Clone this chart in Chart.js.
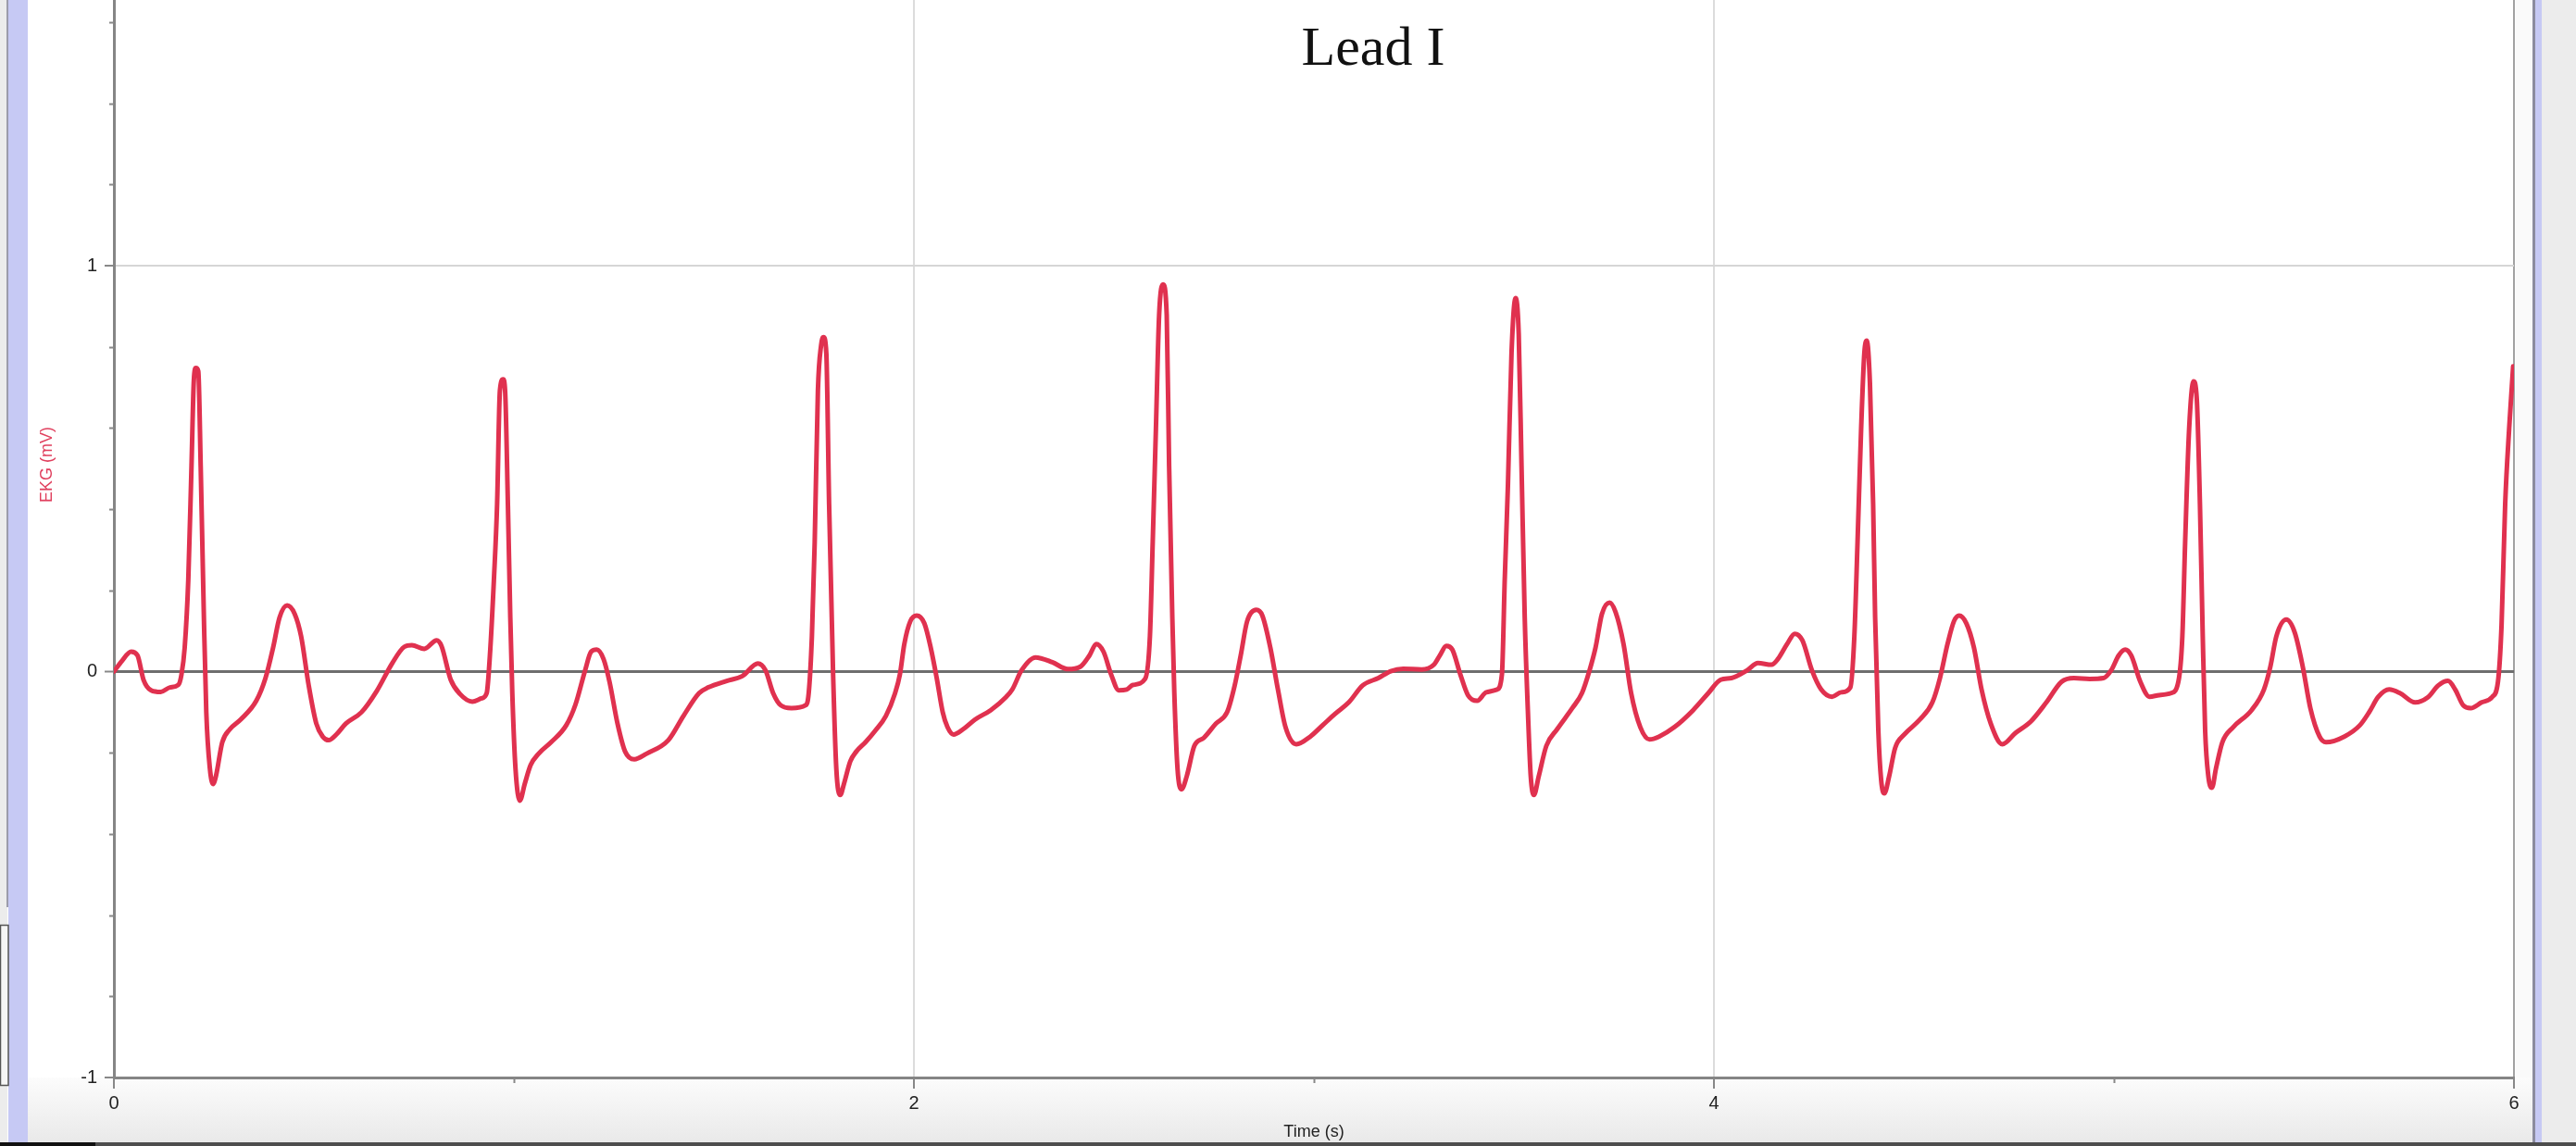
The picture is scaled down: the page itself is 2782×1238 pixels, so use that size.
<!DOCTYPE html>
<html>
<head>
<meta charset="utf-8">
<title>Lead I</title>
<script src="https://cdn.jsdelivr.net/npm/chart.js@4.4.1/dist/chart.umd.min.js"></script>
<style>
  html, body { margin: 0; padding: 0; background: #ffffff; overflow: hidden; }
  canvas { display: block; }
</style>
</head>
<body>
<canvas id="c" width="2782" height="1238"></canvas>
<script>
// ---- Data ----
const chartTitle = 'Lead I';
const xAxisLabel = 'Time (s)';
const yAxisLabel = 'EKG (mV)';

const xMajorTicks = [0, 2, 4, 6];
const xMinorTicks = [1, 3, 5];
const yMajorTicks = [-1, 0, 1];
const yMinorTicks = [-0.8, -0.6, -0.4, -0.2, 0.2, 0.4, 0.6, 0.8, 1.2, 1.4, 1.6];

const xMin = 0, xMax = 6;
const yMin = -1, yMax = 1.6545;

const timeS = [
  0.000, 0.020, 0.043, 0.059, 0.074, 0.093, 0.117, 0.140, 0.161, 0.169,
  0.177, 0.186, 0.194, 0.200, 0.205, 0.211, 0.217, 0.225, 0.231, 0.240,
  0.248, 0.255, 0.271, 0.290, 0.317, 0.356, 0.379, 0.398, 0.414, 0.433,
  0.452, 0.468, 0.487, 0.506, 0.522, 0.537, 0.556, 0.580, 0.619, 0.657,
  0.696, 0.726, 0.745, 0.776, 0.807, 0.819, 0.842, 0.865, 0.896, 0.919,
  0.932, 0.940, 0.950, 0.958, 0.965, 0.973, 0.978, 0.985, 0.991, 0.996,
  1.004, 1.015, 1.027, 1.042, 1.062, 1.093, 1.131, 1.154, 1.178, 1.193,
  1.207, 1.224, 1.239, 1.259, 1.278, 1.301, 1.332, 1.386, 1.424, 1.463,
  1.486, 1.532, 1.571, 1.610, 1.629, 1.648, 1.667, 1.694, 1.729, 1.737,
  1.745, 1.752, 1.760, 1.768, 1.774, 1.781, 1.788, 1.798, 1.806, 1.816,
  1.825, 1.841, 1.856, 1.879, 1.903, 1.930, 1.953, 1.965, 1.976, 1.991,
  2.007, 2.026, 2.042, 2.057, 2.072, 2.084, 2.099, 2.123, 2.153, 2.192,
  2.231, 2.246, 2.269, 2.304, 2.346, 2.385, 2.416, 2.439, 2.456, 2.474,
  2.493, 2.512, 2.532, 2.547, 2.578, 2.590, 2.597, 2.605, 2.613, 2.623,
  2.632, 2.638, 2.646, 2.651, 2.659, 2.669, 2.682, 2.701, 2.725, 2.755,
  2.783, 2.802, 2.817, 2.833, 2.856, 2.871, 2.891, 2.910, 2.929, 2.956,
  2.991, 3.022, 3.053, 3.087, 3.122, 3.161, 3.192, 3.223, 3.269, 3.300,
  3.315, 3.331, 3.346, 3.366, 3.385, 3.408, 3.431, 3.458, 3.470, 3.477,
  3.485, 3.494, 3.504, 3.512, 3.519, 3.527, 3.535, 3.542, 3.550, 3.562,
  3.581, 3.608, 3.646, 3.670, 3.689, 3.704, 3.720, 3.739, 3.754, 3.774,
  3.793, 3.816, 3.839, 3.863, 3.901, 3.948, 3.986, 4.017, 4.044, 4.083,
  4.110, 4.144, 4.160, 4.183, 4.202, 4.221, 4.245, 4.268, 4.295, 4.318,
  4.341, 4.351, 4.359, 4.368, 4.376, 4.382, 4.390, 4.398, 4.403, 4.411,
  4.418, 4.426, 4.438, 4.453, 4.476, 4.515, 4.546, 4.565, 4.584, 4.600,
  4.613, 4.631, 4.650, 4.669, 4.692, 4.721, 4.754, 4.792, 4.831, 4.869,
  4.900, 4.939, 4.974, 4.993, 5.012, 5.028, 5.043, 5.066, 5.089, 5.113,
  5.143, 5.161, 5.171, 5.178, 5.188, 5.199, 5.207, 5.215, 5.222, 5.228,
  5.236, 5.245, 5.255, 5.271, 5.298, 5.344, 5.375, 5.391, 5.406, 5.431,
  5.452, 5.472, 5.491, 5.514, 5.530, 5.576, 5.615, 5.638, 5.661, 5.688,
  5.715, 5.753, 5.784, 5.811, 5.835, 5.853, 5.873, 5.892, 5.919, 5.946,
  5.960, 5.969, 5.978, 5.988, 5.998
];

const ekgMV = [
  0.000, 0.026, 0.049, 0.040, -0.020, -0.046, -0.050, -0.039, -0.033, -0.007,
  0.059, 0.226, 0.506, 0.720, 0.748, 0.740, 0.506, 0.133, -0.100, -0.239,
  -0.277, -0.258, -0.174, -0.142, -0.118, -0.072, -0.016, 0.059, 0.133, 0.163,
  0.142, 0.087, -0.034, -0.128, -0.160, -0.169, -0.155, -0.128, -0.100, -0.048,
  0.021, 0.061, 0.065, 0.056, 0.077, 0.063, -0.020, -0.055, -0.074, -0.066,
  -0.053, 0.040, 0.226, 0.412, 0.692, 0.720, 0.692, 0.412, 0.133, -0.053,
  -0.239, -0.318, -0.277, -0.230, -0.202, -0.174, -0.132, -0.081, 0.003, 0.049,
  0.054, 0.031, -0.025, -0.128, -0.197, -0.216, -0.202, -0.169, -0.109, -0.053,
  -0.039, -0.023, -0.011, 0.020, 0.003, -0.053, -0.083, -0.090, -0.083, -0.053,
  0.087, 0.319, 0.692, 0.804, 0.824, 0.785, 0.412, -0.007, -0.239, -0.304,
  -0.277, -0.221, -0.197, -0.174, -0.146, -0.109, -0.053, -0.007, 0.068, 0.124,
  0.138, 0.119, 0.059, -0.016, -0.100, -0.137, -0.155, -0.142, -0.118, -0.095,
  -0.062, -0.044, 0.003, 0.035, 0.023, 0.006, 0.012, 0.040, 0.068, 0.049,
  -0.007, -0.046, -0.044, -0.033, -0.018, 0.087, 0.319, 0.599, 0.878, 0.954,
  0.878, 0.506, 0.133, -0.053, -0.239, -0.290, -0.258, -0.183, -0.163, -0.128,
  -0.100, -0.034, 0.040, 0.124, 0.152, 0.138, 0.059, -0.044, -0.137, -0.179,
  -0.160, -0.132, -0.104, -0.076, -0.034, -0.016, 0.001, 0.007, 0.005, 0.017,
  0.040, 0.063, 0.054, -0.007, -0.058, -0.072, -0.051, -0.044, -0.007, 0.226,
  0.459, 0.785, 0.920, 0.831, 0.506, 0.133, -0.100, -0.258, -0.304, -0.258,
  -0.183, -0.142, -0.090, -0.053, 0.003, 0.059, 0.142, 0.170, 0.147, 0.068,
  -0.053, -0.137, -0.167, -0.160, -0.137, -0.095, -0.053, -0.020, -0.016, 0.003,
  0.021, 0.017, 0.031, 0.068, 0.093, 0.077, 0.003, -0.044, -0.062, -0.051,
  -0.039, 0.087, 0.319, 0.599, 0.785, 0.815, 0.710, 0.412, 0.133, -0.146,
  -0.267, -0.300, -0.258, -0.188, -0.155, -0.118, -0.076, -0.016, 0.068, 0.124,
  0.138, 0.119, 0.059, -0.044, -0.128, -0.179, -0.151, -0.123, -0.076, -0.025,
  -0.016, -0.018, -0.016, 0.003, 0.040, 0.054, 0.040, -0.025, -0.062, -0.058,
  -0.053, -0.025, 0.087, 0.319, 0.599, 0.715, 0.673, 0.412, 0.087, -0.146,
  -0.258, -0.286, -0.239, -0.174, -0.137, -0.095, -0.044, 0.012, 0.087, 0.128,
  0.096, 0.012, -0.090, -0.160, -0.174, -0.160, -0.132, -0.100, -0.062, -0.044,
  -0.053, -0.076, -0.064, -0.034, -0.023, -0.044, -0.083, -0.090, -0.076, -0.062,
  -0.025, 0.115, 0.412, 0.599, 0.752
];

// ---- Styles ----
const traceColor = '#e0314f';
const labelPink = '#e0405e';
const tickFont = { family: '"Liberation Sans", Arial, sans-serif', size: 20 };

const points = timeS.map((t, i) => ({ x: t, y: ekgMV[i] }));

const chromePlugin = {
  id: 'chrome',
  beforeDraw(chart) {
    const ctx = chart.ctx;
    const W = chart.width, H = chart.height;
    const ca = chart.chartArea;
    ctx.save();
    ctx.fillStyle = '#ffffff';
    ctx.fillRect(0, 0, W, H);
    // band under the time axis
    const g = ctx.createLinearGradient(0, ca.bottom, 0, H);
    g.addColorStop(0, '#fcfcfc');
    g.addColorStop(1, '#e8e8e8');
    ctx.fillStyle = g;
    ctx.fillRect(30, ca.bottom, 2735 - 30, H - ca.bottom);
    // right margin
    ctx.fillStyle = '#fafafa';
    ctx.fillRect(ca.right + 2, 0, 2735 - ca.right - 2, ca.bottom);
    // left window chrome
    ctx.fillStyle = '#ececec';
    ctx.fillRect(0, 0, 8, H);
    ctx.fillStyle = '#9c9cab';
    ctx.fillRect(7, 0, 2, 980);
    ctx.fillStyle = '#c6c9f4';
    ctx.fillRect(9, 0, 21, H);
    ctx.fillStyle = '#f6f6f6';
    ctx.fillRect(0, 999, 9, 174);
    ctx.strokeStyle = '#555';
    ctx.lineWidth = 1.5;
    ctx.strokeRect(0.5, 999.5, 8.5, 173);
    // right window chrome
    ctx.fillStyle = '#8c8c9e';
    ctx.fillRect(2735, 0, 3, H);
    ctx.fillStyle = '#c6c9f4';
    ctx.fillRect(2738, 0, 7, H);
    ctx.fillStyle = '#ececec';
    ctx.fillRect(2745, 0, W - 2745, H);
    // bottom edge
    ctx.fillStyle = '#4d4d4d';
    ctx.fillRect(0, H - 4, W, 4);
    ctx.fillStyle = '#111';
    ctx.fillRect(0, H - 4, 103, 4);
    ctx.restore();
  },
  afterDraw(chart) {
    const ctx = chart.ctx;
    const xs = chart.scales.x, ys = chart.scales.y;
    ctx.save();
    // minor tick marks
    ctx.strokeStyle = '#888';
    ctx.lineWidth = 2;
    ctx.beginPath();
    yMinorTicks.forEach(v => {
      const py = Math.round(ys.getPixelForValue(v)) + 0.5;
      ctx.moveTo(ys.right - 5, py);
      ctx.lineTo(ys.right, py);
    });
    xMinorTicks.forEach(v => {
      const px = Math.round(xs.getPixelForValue(v)) + 0.5;
      ctx.moveTo(px, xs.top);
      ctx.lineTo(px, xs.top + 6);
    });
    ctx.stroke();
    // title
    ctx.fillStyle = '#111';
    ctx.font = '60px "Liberation Serif", "Times New Roman", serif';
    ctx.textAlign = 'center';
    ctx.textBaseline = 'alphabetic';
    ctx.fillText(chartTitle, 1483, 70);
    // y-axis label
    ctx.translate(51.5, 502);
    ctx.rotate(-Math.PI / 2);
    ctx.fillStyle = labelPink;
    ctx.font = '18px "Liberation Sans", Arial, sans-serif';
    ctx.textAlign = 'center';
    ctx.textBaseline = 'middle';
    ctx.fillText(yAxisLabel, 0, 0);
    ctx.restore();
  }
};

new Chart(document.getElementById('c'), {
  type: 'line',
  data: {
    datasets: [{
      label: yAxisLabel,
      data: points,
      borderColor: traceColor,
      borderWidth: 5,
      pointRadius: 0,
      fill: false,
      cubicInterpolationMode: 'monotone',
      borderJoinStyle: 'round',
      borderCapStyle: 'round'
    }]
  },
  options: {
    responsive: false,
    devicePixelRatio: 1,
    animation: false,
    layout: { padding: { left: 0, right: 67, top: 0, bottom: 0 } },
    plugins: {
      legend: { display: false },
      tooltip: { enabled: false },
      title: { display: false }
    },
    scales: {
      x: {
        type: 'linear',
        min: xMin,
        max: xMax,
        afterBuildTicks: s => { s.ticks = xMajorTicks.map(v => ({ value: v })); },
        afterFit: s => { s.height = 74; s.paddingLeft = 0; s.paddingRight = 0; },
        ticks: {
          font: tickFont,
          color: '#222',
          padding: 4,
          maxRotation: 0,
          autoSkip: false
        },
        grid: {
          color: c => (c.tick && c.tick.value === 0) ? 'rgba(0,0,0,0)' :
                      (c.tick && c.tick.value === 6) ? '#a2a2a2' : '#dcdcdc',
          lineWidth: 2,
          tickLength: 12,
          tickColor: '#888',
          tickWidth: 2
        },
        border: { display: true, color: '#858585', width: 3 },
        title: {
          display: true,
          text: xAxisLabel,
          color: '#222',
          font: { family: '"Liberation Sans", Arial, sans-serif', size: 18 },
          padding: { top: 0, bottom: 4 }
        }
      },
      y: {
        type: 'linear',
        min: yMin,
        max: yMax,
        afterBuildTicks: s => { s.ticks = yMajorTicks.map(v => ({ value: v })); },
        afterFit: s => { s.width = 123; s.paddingTop = 0; s.paddingBottom = 0; },
        ticks: {
          font: tickFont,
          color: '#222',
          padding: 8,
          autoSkip: false
        },
        grid: {
          color: c => {
            if (!c.tick) return '#dcdcdc';
            if (c.tick.value === 0) return '#6e6e6e';
            if (c.tick.value === -1) return 'rgba(0,0,0,0)';
            return '#d6d6d6';
          },
          lineWidth: c => (c.tick && c.tick.value === 0) ? 3 : 2,
          tickLength: 10,
          tickColor: '#888',
          tickWidth: 2
        },
        border: { display: true, color: '#858585', width: 3 }
      }
    }
  },
  plugins: [chromePlugin]
});
</script>
</body>
</html>
